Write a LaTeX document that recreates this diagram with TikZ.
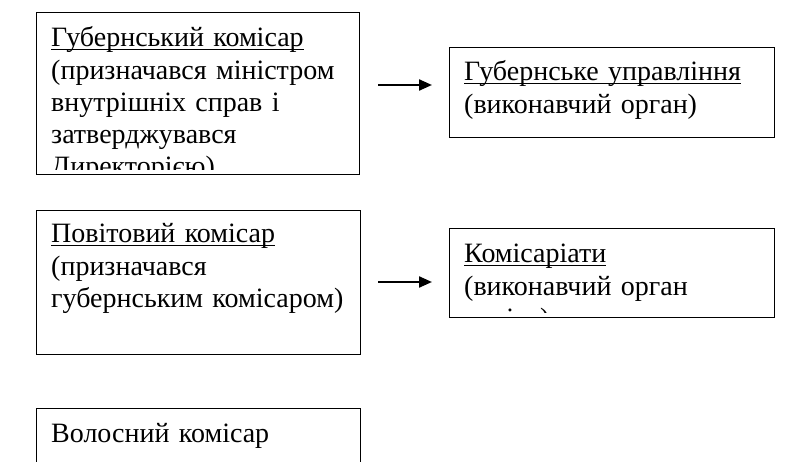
\documentclass[tikz,border=0pt]{standalone}
\usepackage{fontspec}
\setmainfont{Liberation Serif}
\usetikzlibrary{arrows.meta}
\newsavebox{\ulsave}
\newcommand{\ulline}[1]{\sbox{\ulsave}{#1}\rlap{\rule[-3pt]{\wd\ulsave}{1.3pt}}\usebox{\ulsave}}

\begin{document}
\begin{tikzpicture}[x=1pt,y=-1pt,
    box/.style={draw,line width=1.3pt,anchor=north west,inner sep=0pt},
    txt/.style={anchor=base west,inner sep=0pt,align=left,text width=320pt,
      font=\fontsize{28}{32.2}\selectfont},
    arr/.style={line width=2.2pt,-{Triangle[length=13pt,width=11pt]}}]
    \useasboundingbox (0,0) rectangle (803,462);
    % boxes
    \node[box,minimum width=323pt,minimum height=162pt] (gub) at (36,12) {}; % governor commissar
    \node[box,minimum width=325pt,minimum height=90pt] (upr) at (449,47) {}; % governor office
    \node[box,minimum width=324pt,minimum height=144pt] (pov) at (36,210) {}; % county commissar
    \node[box,minimum width=325pt,minimum height=89pt] (kom) at (449,228) {}; % commissariats
    \node[box,minimum width=324pt,minimum height=70pt] (vol) at (36,408) {}; % volost commissar
    % texts, cut a little above the lower border
    \begin{scope}
      \clip (gub.north west) rectangle ([yshift=6pt]gub.south east);
      \node[txt] (gubtxt) at ([shift={(15,35)}]gub.north west)
        {\ulline{Губернський комісар}\\(призначався міністром\\внутрішніх справ і\\затверджувався\\Директорією)};
    \end{scope}
    \begin{scope}
      \clip (upr.north west) rectangle ([yshift=6pt]upr.south east);
      \node[txt] (uprtxt) at ([shift={(15,34)}]upr.north west)
        {\ulline{Губернське управління}\\(виконавчий орган)};
    \end{scope}
    \begin{scope}
      \clip (pov.north west) rectangle ([yshift=6pt]pov.south east);
      \node[txt] (povtxt) at ([shift={(15,33)}]pov.north west)
        {\ulline{Повітовий комісар}\\(призначався\\губернським комісаром)};
    \end{scope}
    \begin{scope}
      \clip (kom.north west) rectangle ([yshift=6pt]kom.south east);
      \node[txt] (komtxt) at ([shift={(15,35)}]kom.north west)
        {\ulline{Комісаріати}\\(виконавчий орган\\повіту)};
    \end{scope}
    \begin{scope}
      \clip (vol.north west) rectangle (vol.south east);
      \node[txt] (voltxt) at ([shift={(15,34)}]vol.north west) {Волосний комісар};
    \end{scope}
    % arrows
    \draw[arr,shorten <=18pt,shorten >=17pt] (gub.east |- 0,85) -- (upr.west |- 0,85);
    \draw[arr,shorten <=17pt,shorten >=17pt] (pov.east |- 0,282) -- (kom.west |- 0,282);
\end{tikzpicture}
\end{document}
